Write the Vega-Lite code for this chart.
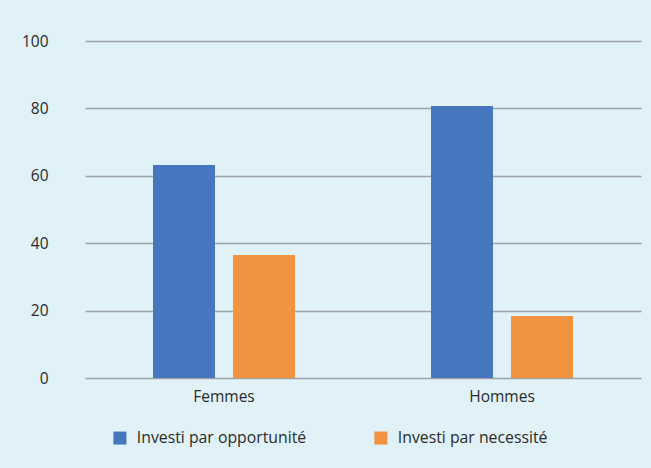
{
  "$schema": "https://vega.github.io/schema/vega-lite/v6.json",
  "width": 556,
  "height": 337,
  "autosize": "none",
  "padding": {"left": 85, "top": 41, "right": 10, "bottom": 90},
  "background": "#e0f1f8",
  "data": {
    "values": [
      {"genre": "Femmes", "type": "Investi par opportunité", "valeur": 63.2},
      {"genre": "Femmes", "type": "Investi par necessité", "valeur": 36.5},
      {"genre": "Hommes", "type": "Investi par opportunité", "valeur": 80.7},
      {"genre": "Hommes", "type": "Investi par necessité", "valeur": 18.4}
    ]
  },
  "mark": {"type": "bar"},
  "encoding": {
    "x": {
      "field": "genre",
      "type": "nominal",
      "scale": {"paddingInner": 0, "paddingOuter": 0},
      "axis": {"title": null, "labelAngle": 0, "domain": false, "ticks": false, "labelPadding": 11, "labelFontSize": 15.5, "labelColor": "#2b2b2b", "labelFont": "Open Sans"}
    },
    "xOffset": {
      "field": "type",
      "type": "nominal",
      "sort": ["Investi par opportunité", "Investi par necessité"],
      "scale": {"paddingInner": 0.225, "paddingOuter": 0.85}
    },
    "y": {
      "field": "valeur",
      "type": "quantitative",
      "scale": {"domain": [0, 100]},
      "axis": {"title": null, "values": [0, 20, 40, 60, 80, 100], "domain": false, "ticks": false, "grid": true, "gridColor": "#9ea3a7", "gridWidth": 1.3, "labelPadding": 37, "labelFontSize": 15.5, "labelColor": "#2b2b2b", "labelFont": "Open Sans"}
    },
    "color": {
      "field": "type",
      "type": "nominal",
      "sort": ["Investi par opportunité", "Investi par necessité"],
      "scale": {"domain": ["Investi par opportunité", "Investi par necessité"], "range": ["#4677be", "#f1933f"]},
      "legend": {
        "title": null,
        "orient": "none",
        "legendX": 27,
        "legendY": 389,
        "direction": "horizontal",
        "symbolType": "square",
        "symbolSize": 169,
        "symbolStrokeWidth": 0,
        "columnPadding": 66,
        "labelFontSize": 15.8,
        "labelFont": "Open Sans",
        "labelColor": "#2b2b2b",
        "labelOffset": 9,
        "labelLimit": 300
      }
    }
  },
  "config": {"view": {"stroke": null}}
}
